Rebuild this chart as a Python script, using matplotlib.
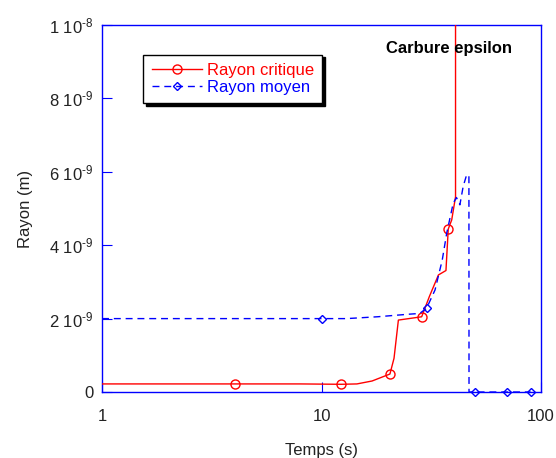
import matplotlib.pyplot as plt

plt.rcParams['font.family'] = ['Liberation Sans', 'DejaVu Sans']
plt.rcParams['mathtext.fontset'] = 'custom'
plt.rcParams['mathtext.rm'] = 'Liberation Sans'
plt.rcParams['mathtext.default'] = 'regular'

# Rayon critique (s, m)
t_crit = [1, 2, 4.04, 8, 12.3, 14.5, 17, 20.5, 21.4, 22.4, 25, 28.6, 31, 34.1, 36.9, 37.8, 39.2, 40.8, 40.85]
r_crit = [0.22e-9, 0.22e-9, 0.22e-9, 0.22e-9, 0.21e-9, 0.22e-9, 0.3e-9, 0.49e-9, 0.92e-9, 1.96e-9,
          2.0e-9, 2.05e-9, 2.6e-9, 3.19e-9, 3.31e-9, 4.44e-9, 4.69e-9, 5.32e-9, 1e-7]
crit_marks = [2, 4, 7, 11, 15]

# Rayon moyen (s, m)
t_moy = [1, 10.1, 13, 18, 25, 28, 30.1, 32.9, 35.5, 37.2, 39.8, 41.2, 42.7, 44.2, 45.8, 46.95, 47.0, 50, 69.7, 89.7]
r_moy = [2.0e-9, 2.0e-9, 2.0e-9, 2.05e-9, 2.12e-9, 2.14e-9, 2.28e-9, 2.78e-9, 3.6e-9, 4.33e-9,
         5.14e-9, 5.3e-9, 5.1e-9, 5.6e-9, 5.91e-9, 5.91e-9, 0, 0, 0, 0]
moy_marks = [1, 6, 17, 18, 19]

y_ticks = [0, 2e-9, 4e-9, 6e-9, 8e-9, 1e-8]
y_labels = ['0', '2 10$^{\\text{-9}}$', '4 10$^{\\text{-9}}$', '6 10$^{\\text{-9}}$',
            '8 10$^{\\text{-9}}$', '1 10$^{\\text{-8}}$']
x_ticks = [1, 10, 100]
x_labels = ['1', '10', '100']

fig = plt.figure(figsize=(5.56, 4.58), dpi=100, facecolor='white')
ax = fig.add_axes([0.1835, 0.1441, 0.7895, 0.8013])

ax.plot(t_crit, r_crit, color='red', linewidth=1, marker='o', markersize=6.5,
        markerfacecolor='none', markevery=crit_marks, label='Rayon critique', zorder=3)
ax.plot(t_moy, r_moy, color='blue', linewidth=1, linestyle=(0, (5, 3.5)), marker='D',
        markersize=4.5, markerfacecolor='none', markevery=moy_marks,
        label='Rayon moyen', zorder=4, clip_on=False)

ax.set_xscale('log')
ax.set_xlim(1, 100)
ax.set_ylim(0, 1e-8)
ax.set_xticks(x_ticks)
ax.set_xticklabels(x_labels)
ax.minorticks_off()
ax.set_yticks(y_ticks)
ax.set_yticklabels(y_labels)

for s in ax.spines.values():
    s.set_color('blue')
    s.set_linewidth(1)

ax.tick_params(direction='in', length=7, color='blue', labelsize=12, labelcolor='#222222',
               top=False, right=False)
ax.tick_params(axis='x', pad=12)
ax.tick_params(axis='y', pad=6)

ax.set_xlabel('Temps (s)', fontsize=12, color='#222222', labelpad=14)
ax.set_ylabel('Rayon (m)', fontsize=12, color='#222222', labelpad=12)

ax.text(0.79, 0.937, 'Carbure epsilon', transform=ax.transAxes, ha='center', va='center',
        fontsize=12, fontweight='bold', color='black')

leg = ax.legend(loc='upper left', bbox_to_anchor=(0.075, 0.942), fontsize=12,
                handlelength=3, handletextpad=0.3, labelspacing=0.1,
                fancybox=False, shadow={'color': 'black', 'alpha': 1}, framealpha=1,
                edgecolor='black', borderpad=0.5, labelcolor='linecolor')
leg.get_frame().set_linewidth(1)

plt.savefig('out.png', dpi=100, facecolor='white')
